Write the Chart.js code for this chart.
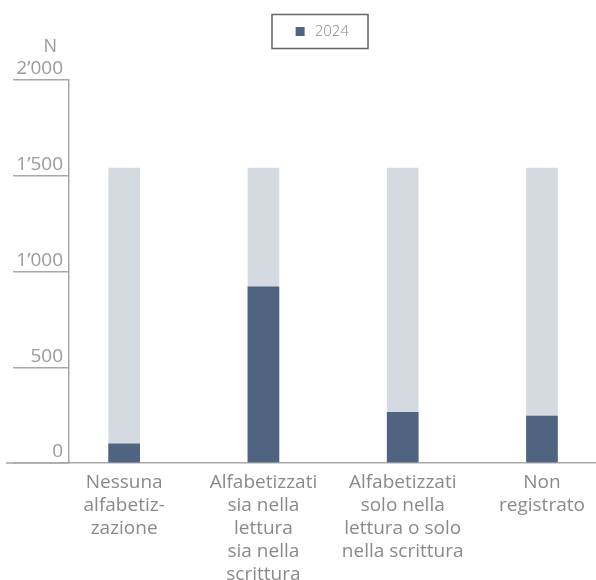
<!DOCTYPE html>
<html lang="it">
<head>
    <meta charset="UTF-8">
    <title>Alfabetizzazione 2024</title>
    <script src="https://cdn.jsdelivr.net/npm/chart.js"></script>
    <style>
        html, body {
            margin: 0;
            padding: 0;
            background: #fff;
        }
        #chart-container {
            position: relative;
            width: 596px;
            height: 580px;
        }
    </style>
</head>
<body>
    <div id="chart-container">
        <canvas id="chart"></canvas>
    </div>

    <script>
        // categorie (righe multiple per le etichette)
        const categories = [
            ['Nessuna', 'alfabetiz-', 'zazione'],
            ['Alfabetizzati', 'sia nella', 'lettura', 'sia nella', 'scrittura'],
            ['Alfabetizzati', 'solo nella', 'lettura o solo', 'nella scrittura'],
            ['Non', 'registrato']
        ];
        const values2024 = [100, 920, 265, 245];
        const backdrop = [1540, 1540, 1540, 1540];
        const yTicks = [0, 500, 1000, 1500, 2000];

        const DARK = '#506482';
        const LIGHT = '#d5dae1';
        const AXIS = '#a8a8a8';

        Chart.defaults.font.family = "'Open Sans', sans-serif";
        Chart.defaults.font.weight = 400;

        const fmt = v => String(v).replace(/\B(?=(\d{3})+(?!\d))/g, '\u2019');

        // cornice della legenda, titolo "N" e prolungamento della linea di base
        const decorations = {
            id: 'decorations',
            beforeInit(chart) {
                const fit = chart.legend.fit;
                chart.legend.fit = function () {
                    fit.call(this);
                    this.height += 31;
                };
            },
            afterLayout(chart) {
                const lg = chart.legend;
                lg.left += 23;
                lg.right += 23;
            },
            afterDraw(chart) {
                const ctx = chart.ctx;
                const y = chart.scales.y;
                const area = chart.chartArea;
                ctx.save();
                ctx.strokeStyle = AXIS;
                ctx.lineWidth = 1.5;
                ctx.beginPath();
                ctx.moveTo(6, y.getPixelForValue(0));
                ctx.lineTo(area.left, y.getPixelForValue(0));
                ctx.stroke();

                ctx.fillStyle = '#9a9a9a';
                ctx.font = "400 18px 'Open Sans'";
                ctx.textAlign = 'right';
                ctx.textBaseline = 'alphabetic';
                ctx.fillText('N', area.left - 12, y.getPixelForValue(2000) - 28);

                ctx.strokeStyle = '#666';
                ctx.lineWidth = 1.5;
                ctx.strokeRect(272, 14.5, 96, 34);
                ctx.restore();
            }
        };

        const data = {
            datasets: [{
                label: '2024',
                data: values2024.map((v, i) => ({ x: i, y: v })),
                backgroundColor: DARK,
                borderWidth: 0,
                grouped: false,
                barThickness: 31,
                pointStyle: 'rect'
            }, {
                label: 'totale',
                data: backdrop.map((v, i) => ({ x: i, y: v })),
                backgroundColor: LIGHT,
                borderWidth: 0,
                grouped: false,
                barThickness: 31
            }]
        };

        const config = {
            type: 'bar',
            data: data,
            plugins: [decorations],
            options: {
                responsive: true,
                maintainAspectRatio: false,
                animation: false,
                layout: {
                    padding: { top: 14, left: 0, right: 0, bottom: 0 }
                },
                plugins: {
                    legend: {
                        position: 'top',
                        labels: {
                            filter: item => item.text === '2024',
                            usePointStyle: true,
                            boxWidth: 14,
                            boxHeight: 9,
                            color: '#888',
                            font: { size: 15, weight: 300 }
                        }
                    },
                    tooltip: { enabled: false }
                },
                scales: {
                    x: {
                        type: 'linear',
                        offset: false,
                        min: -0.396,
                        max: 3.388,
                        afterBuildTicks: scale => {
                            scale.ticks = categories.map((c, i) => ({ value: i }));
                        },
                        afterFit: scale => { scale.height = 117; },
                        grid: { display: false },
                        border: { display: true, color: AXIS, width: 1.5 },
                        ticks: {
                            autoSkip: false,
                            maxRotation: 0,
                            padding: 0,
                            color: '#8a8a8a',
                            font: { size: 19, lineHeight: 1.21 },
                            callback: v => categories[v]
                        }
                    },
                    y: {
                        min: 0,
                        max: 2000,
                        afterBuildTicks: scale => {
                            scale.ticks = yTicks.map(v => ({ value: v }));
                        },
                        afterFit: scale => { scale.width = 69; },
                        grid: {
                            drawOnChartArea: false,
                            drawTicks: true,
                            tickLength: 56,
                            color: AXIS,
                            lineWidth: 1.5
                        },
                        border: { display: true, color: AXIS, width: 1.5 },
                        ticks: {
                            padding: -50,
                            labelOffset: -11,
                            color: '#9a9a9a',
                            font: { size: 19 },
                            callback: v => fmt(v)
                        }
                    }
                }
            }
        };

        new Chart(document.getElementById('chart').getContext('2d'), config);
    </script>
</body>
</html>
